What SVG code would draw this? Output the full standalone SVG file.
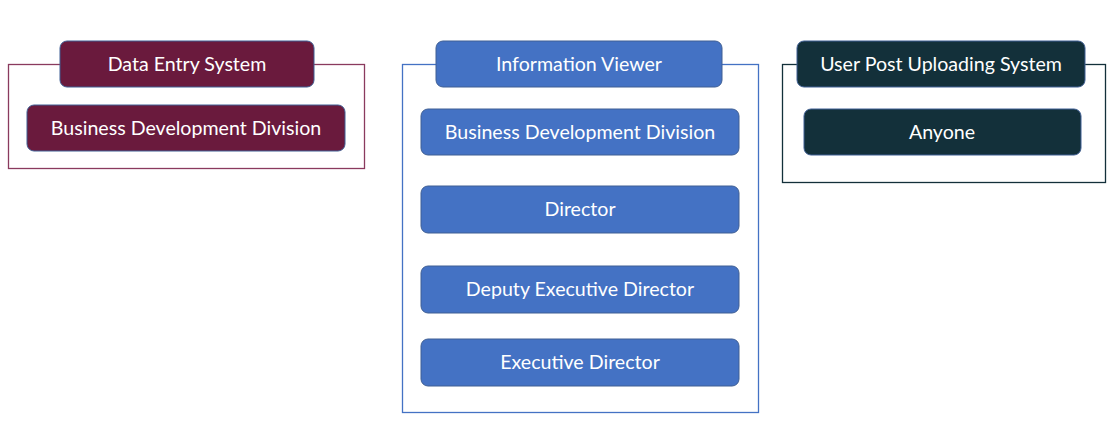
<svg xmlns="http://www.w3.org/2000/svg" width="1114" height="433" viewBox="0 0 1114 433">
<style>
.frame{fill:none;stroke-width:1.3}
.box{stroke:#3f5f94;stroke-width:1}
.t{font-family:Lato,"Open Sans",sans-serif;font-size:19.6px;fill:#ffffff;text-anchor:middle;dominant-baseline:central}
.m{fill:#6a1a3d}
.b{fill:#4472c4}
.d{fill:#13303a}
</style>
<rect width="1114" height="433" fill="#ffffff"/>
<g id="frames">
<rect class="frame" x="8.5" y="64.5" width="356" height="104" stroke="#8a3a5e"/>
<rect class="frame" x="402.5" y="64.5" width="356" height="348" stroke="#4472c4"/>
<rect class="frame" x="782.5" y="64.5" width="323" height="118" stroke="#13303a"/>
</g>
<g id="data-entry-system">
<rect class="box m" x="60" y="41" width="254" height="46" rx="7"/>
<text class="t" x="187" y="63">Data Entry System</text>
</g>
<g id="des-bdd">
<rect class="box m" x="27" y="105" width="318" height="46" rx="7"/>
<text class="t" x="186" y="127">Business Development Division</text>
</g>
<g id="information-viewer">
<rect class="box b" x="436" y="41" width="286" height="46" rx="7"/>
<text class="t" x="579" y="63">Information Viewer</text>
</g>
<g id="iv-bdd">
<rect class="box b" x="421" y="109" width="318" height="46" rx="7"/>
<text class="t" x="580" y="131">Business Development Division</text>
</g>
<g id="iv-director">
<rect class="box b" x="421" y="186" width="318" height="47" rx="7"/>
<text class="t" x="580" y="208.5">Director</text>
</g>
<g id="iv-deputy">
<rect class="box b" x="421" y="266" width="318" height="47" rx="7"/>
<text class="t" x="580" y="288.5">Deputy Executive Director</text>
</g>
<g id="iv-executive">
<rect class="box b" x="421" y="339" width="318" height="47" rx="7"/>
<text class="t" x="580" y="361.5">Executive Director</text>
</g>
<g id="user-post-uploading-system">
<rect class="box d" x="797" y="41" width="288" height="46" rx="7"/>
<text class="t" x="941" y="63">User Post Uploading System</text>
</g>
<g id="upus-anyone">
<rect class="box d" x="804" y="109" width="277" height="46" rx="7"/>
<text class="t" x="942" y="131">Anyone</text>
</g>
<g id="connectors"></g>
</svg>
